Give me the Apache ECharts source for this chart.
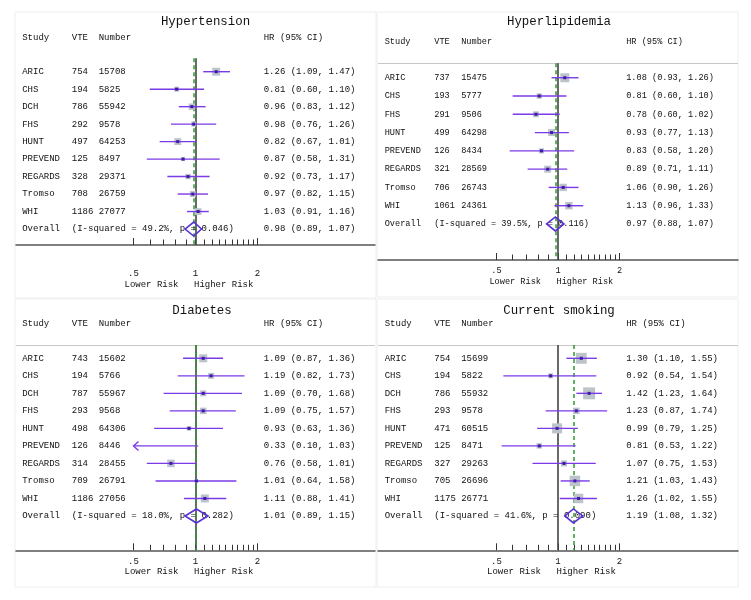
<!DOCTYPE html>
<html><head><meta charset="utf-8">
<script src="https://cdn.jsdelivr.net/npm/echarts@6/dist/echarts.min.js"></script>
<style>html,body{margin:0;padding:0;background:#fff}#c{width:751px;height:600px}</style>
</head><body><div id="c"></div><script>
// ---------- DATA ----------
const htTitle = 'Hypertension';
const htStudies = ['ARIC','CHS','DCH','FHS','HUNT','PREVEND','REGARDS','Tromso','WHI'];
const htVTE = [754,194,786,292,497,125,328,708,1186];
const htNumber = [15708,5825,55942,9578,64253,8497,29371,26759,27077];
const htHR = [1.26,0.81,0.96,0.98,0.82,0.87,0.92,0.97,1.03];
const htLo = [1.09,0.60,0.83,0.76,0.67,0.58,0.73,0.82,0.91];
const htHi = [1.47,1.10,1.12,1.26,1.01,1.31,1.17,1.15,1.16];
const htWeight = [19.5,7.5,12.5,7.5,14.5,5,9,11,14];
const htOverall = [0.98,0.89,1.07];
const htHet = [49.2,0.046];

const hlTitle = 'Hyperlipidemia';
const hlStudies = ['ARIC','CHS','FHS','HUNT','PREVEND','REGARDS','Tromso','WHI'];
const hlVTE = [737,193,291,499,126,321,706,1061];
const hlNumber = [15475,5777,9506,64298,8434,28569,26743,24361];
const hlHR = [1.08,0.81,0.78,0.93,0.83,0.89,1.06,1.13];
const hlLo = [0.93,0.60,0.60,0.77,0.58,0.71,0.90,0.96];
const hlHi = [1.26,1.10,1.02,1.13,1.20,1.11,1.26,1.33];
const hlWeight = [25,9,11,15,8,15,17,17];
const hlOverall = [0.97,0.88,1.07];
const hlHet = [39.5,0.116];

const dmTitle = 'Diabetes';
const dmStudies = ['ARIC','CHS','DCH','FHS','HUNT','PREVEND','REGARDS','Tromso','WHI'];
const dmVTE = [743,194,787,293,498,126,314,709,1186];
const dmNumber = [15602,5766,55967,9568,64306,8446,28455,26791,27056];
const dmHR = [1.09,1.19,1.09,1.09,0.93,0.33,0.76,1.01,1.11];
const dmLo = [0.87,0.82,0.70,0.75,0.63,0.10,0.58,0.64,0.88];
const dmHi = [1.36,1.73,1.68,1.57,1.36,1.03,1.01,1.58,1.41];
const dmWeight = [19.8,11,11,13,6.3,1,17.4,3.8,19.8];
const dmOverall = [1.01,0.89,1.15];
const dmHet = [18.0,0.282];

const smTitle = 'Current smoking';
const smStudies = ['ARIC','CHS','DCH','FHS','HUNT','PREVEND','REGARDS','Tromso','WHI'];
const smVTE = [754,194,786,293,471,125,327,705,1175];
const smNumber = [15699,5822,55932,9578,60515,8471,29263,26696,26771];
const smHR = [1.30,0.92,1.42,1.23,0.99,0.81,1.07,1.21,1.26];
const smLo = [1.10,0.54,1.23,0.87,0.79,0.53,0.75,1.03,1.02];
const smHi = [1.55,1.54,1.64,1.74,1.25,1.22,1.53,1.43,1.55];
const smWeight = [37,7.7,44,13,31,9.3,11,34,28];
const smOverall = [1.19,1.08,1.32];
const smHet = [41.6,0.090];

const headers = ['Study','VTE','Number','HR (95% CI)'];
const majorTicks = [0.5,1,2];
const minorTicks = [0.6,0.7,0.8,0.9,1.1,1.2,1.3,1.4,1.5,1.6,1.7,1.8,1.9];
const riskLabels = ['Lower Risk','Higher Risk'];

// ---------- LAYOUT ----------
const panels = [
  {title:htTitle, st:htStudies, vte:htVTE, num:htNumber, hr:htHR, lo:htLo, hi:htHi, w:htWeight, ov:htOverall, het:htHet},
  {title:hlTitle, st:hlStudies, vte:hlVTE, num:hlNumber, hr:hlHR, lo:hlLo, hi:hlHi, w:hlWeight, ov:hlOverall, het:hlHet},
  {title:dmTitle, st:dmStudies, vte:dmVTE, num:dmNumber, hr:dmHR, lo:dmLo, hi:dmHi, w:dmWeight, ov:dmOverall, het:dmHet},
  {title:smTitle, st:smStudies, vte:smVTE, num:smNumber, hr:smHR, lo:smLo, hi:smHi, w:smWeight, ov:smOverall, het:smHet}
];
const lay = [
  {left:16, width:359, range:2.895, top:58.3, h:186.7, yMin:-0.767, yMax:9.915, box:[15,12,361,286], tx:205.5, ty:22, lm:23.7, rd:40, fs:9},
  {left:378, width:360, range:2.927, top:63.3, h:196.7, yMin:-0.79, yMax:9.97, box:[377,12,361,285], tx:559, ty:22, lm:6.7, rd:21.7, fs:8.6},
  {left:16, width:359, range:2.895, top:345, h:205.3, yMin:-0.76, yMax:10.96, box:[15,299,361,288], tx:202, ty:311, lm:6.4, rd:21.4, fs:9},
  {left:378, width:360, range:2.927, top:345, h:205.3, yMin:-0.76, yMax:10.96, box:[377,299,361,288], tx:559, ty:311, lm:6.4, rd:21.4, fs:9}
];
const HEADER_ROW = -1.97;
const FONT = '"Liberation Mono", "Courier New", monospace';
const TXT = '#111';
const L2 = Math.log2;
const f2 = v => v.toFixed(2);
const hrStr = (h,l,u) => `${f2(h)} (${f2(l)}, ${f2(u)})`;
const tickFmt = v => { const r = Math.pow(2, v); return r < 1 ? String(+r.toFixed(1)).replace(/^0/, '') : String(Math.round(r)); };

const grids = [], xAxes = [], yAxes = [], series = [], graphics = [];

panels.forEach((p, k) => {
  const L = lay[k];
  const n = p.st.length;
  grids.push({left:L.left, top:L.top, width:L.width, height:L.h});
  // main x axis (log2 scale), major ticks + labels
  xAxes.push({gridIndex:k, type:'value', min:-L.range, max:L.range, position:'bottom',
    axisLine:{show:true, onZero:false, lineStyle:{color:'#555', width:1.5}},
    axisTick:{show:true, inside:true, length:7, customValues:majorTicks.map(L2), lineStyle:{color:'#333', width:1}},
    axisLabel:{show:true, customValues:majorTicks.map(L2), formatter:tickFmt, margin:L.lm, color:TXT, fontFamily:FONT, fontSize:L.fs},
    splitLine:{show:false}});
  // minor ticks
  xAxes.push({gridIndex:k, type:'value', min:-L.range, max:L.range, position:'bottom', offset:0,
    axisLine:{show:false, onZero:false},
    axisTick:{show:true, inside:true, length:5.5, customValues:minorTicks.map(L2), lineStyle:{color:'#333', width:1}},
    axisLabel:{show:false}, splitLine:{show:false}});
  yAxes.push({gridIndex:k, type:'value', inverse:true, min:L.yMin, max:L.yMax, show:false,
    axisLine:{onZero:false}, splitLine:{show:false}});

  // table text series
  const tdata = [];
  for (let i = 0; i <= n; i++) tdata.push([0, i]);
  tdata.push([0, HEADER_ROW]);
  tdata.push([0, L.yMax]);
  series.push({type:'custom', xAxisIndex:2*k, yAxisIndex:k, clip:false, z:1, silent:true,
    data:tdata,
    renderItem:(params, api) => {
      const i = params.dataIndex;
      const x1 = api.coord([0, 0])[0];
      const y = api.coord([0, api.value(1)])[1];
      const t = (txt, dx, yy, al) => ({type:'text', x:x1+dx, y:yy,
        style:{text:txt, font:`${L.fs}px ${FONT}`, fill:TXT, align:al||'left', verticalAlign:'middle'}});
      const cols = [-173.3, -123.7, -96.8, 68.2];
      if (i < n) {
        return {type:'group', children:[
          t(p.st[i], cols[0], y), t(String(p.vte[i]), cols[1], y), t(String(p.num[i]), cols[2], y),
          t(hrStr(p.hr[i], p.lo[i], p.hi[i]), cols[3], y)]};
      } else if (i === n) {
        return {type:'group', children:[
          t('Overall', cols[0], y),
          t(`(I-squared = ${p.het[0].toFixed(1)}%, p = ${p.het[1].toFixed(3)})`, cols[1], y),
          t(hrStr(p.ov[0], p.ov[1], p.ov[2]), cols[3], y)]};
      } else if (i === n + 1) {
        return {type:'group', children:headers.map((h, j) => t(h, cols[j], y))};
      } else {
        return {type:'group', children:[
          t(riskLabels[0], -17, y + L.rd, 'right'),
          t(riskLabels[1], -1.5, y + L.rd, 'left')]};
      }
    },
    markLine:{silent:true, symbol:'none', z:1, animation:false, label:{show:false},
      data:[
        {yAxis:L.yMin, lineStyle:{color:'#c8c8c8', width:1, type:'solid'}},
        {xAxis:0, lineStyle:{color:'#444', width:1.6, type:'solid'}},
        {xAxis:L2(p.ov[0]), lineStyle:{color:'#2e9a2e', width:1.5, type:[4,3]}}
      ]}
  });

  // forest series
  const fdata = p.st.map((s, i) => [L2(p.hr[i]), i, L2(p.lo[i]), L2(p.hi[i]), p.w[i], 0]);
  fdata.push([L2(p.ov[0]), n, L2(p.ov[1]), L2(p.ov[2]), 0, 1]);
  series.push({type:'custom', xAxisIndex:2*k, yAxisIndex:k, clip:false, z:3, silent:true,
    data:fdata,
    renderItem:(params, api) => {
      const xh = api.value(0), row = api.value(1), xl = api.value(2), xu = api.value(3), w = api.value(4), ov = api.value(5);
      const c = api.coord([xh, row]);
      const a = api.coord([Math.max(xl, -1), row]);
      const b = api.coord([Math.min(xu, 1), row]);
      const kids = [];
      if (ov) {
        kids.push({type:'polygon', shape:{points:[[a[0], c[1]], [c[0], c[1]-7], [b[0], c[1]], [c[0], c[1]+7]]},
          style:{fill:'none', stroke:'#5a2fd6', lineWidth:1.6}});
      } else {
        const inR = xh >= -1 && xh <= 1;
        if (inR) {
          const s = 1.8 * Math.sqrt(w);
          kids.push({type:'rect', shape:{x:c[0]-s/2, y:c[1]-s/2, width:s, height:s}, style:{fill:'#bcc3c9'}});
        }
        kids.push({type:'line', shape:{x1:a[0], y1:c[1], x2:b[0], y2:c[1]}, style:{stroke:'#7b3ae8', lineWidth:1.4}});
        if (xl < -1) kids.push({type:'polyline', shape:{points:[[a[0]+5, c[1]-4.5], [a[0], c[1]], [a[0]+5, c[1]+4.5]]},
          style:{fill:'none', stroke:'#7b3ae8', lineWidth:1.4}});
        if (inR) kids.push({type:'rect', shape:{x:c[0]-1.5, y:c[1]-1.5, width:3, height:3}, style:{fill:'#3a1ca8'}});
      }
      return {type:'group', children:kids};
    }
  });

  graphics.push({type:'rect', shape:{x:L.box[0], y:L.box[1], width:L.box[2], height:L.box[3]},
    style:{fill:'none', stroke:'#eeeeee', lineWidth:1}, z:0, silent:true});
  graphics.push({type:'text', x:L.tx, y:L.ty, z:5, silent:true,
    style:{text:p.title, font:`12.4px ${FONT}`, fill:TXT, align:'center', verticalAlign:'middle', textAlign:'center', textVerticalAlign:'middle'}});
});

const chart = echarts.init(document.getElementById('c'), null, {renderer:'canvas'});
chart.setOption({
  animation:false,
  backgroundColor:'#ffffff',
  grid:grids, xAxis:xAxes, yAxis:yAxes, series:series, graphic:graphics
});
</script></body></html>
